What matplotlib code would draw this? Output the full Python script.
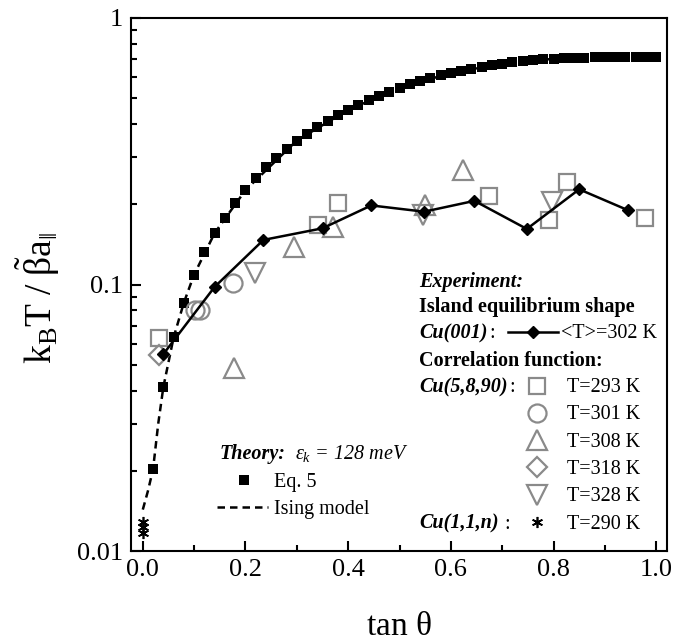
import matplotlib
matplotlib.use("Agg")
from matplotlib import pyplot as plt
from matplotlib.ticker import FixedLocator, NullFormatter

plt.rcParams['font.family'] = ['Liberation Serif', 'DejaVu Serif']
plt.rcParams['mathtext.fontset'] = 'custom'
plt.rcParams['mathtext.rm'] = 'Liberation Serif'
plt.rcParams['mathtext.it'] = 'Liberation Serif:italic'
plt.rcParams['mathtext.bf'] = 'Liberation Serif:bold'

# theory: Eq. 5 points and Ising model curve
eq5_x = [0.02, 0.04, 0.06, 0.08, 0.10, 0.12, 0.14, 0.16, 0.18, 0.20,
         0.22, 0.24, 0.26, 0.28, 0.30, 0.32, 0.34, 0.36, 0.38, 0.40,
         0.42, 0.44, 0.46, 0.48, 0.50, 0.52, 0.54, 0.56, 0.58, 0.60,
         0.62, 0.64, 0.66, 0.68, 0.70, 0.72, 0.74, 0.76, 0.78, 0.80,
         0.82, 0.84, 0.86, 0.88, 0.90, 0.92, 0.94, 0.96, 0.98, 1.00]
eq5_y = [0.0203, 0.0412, 0.0633, 0.0855, 0.109, 0.132, 0.156, 0.178, 0.203, 0.226,
         0.250, 0.275, 0.299, 0.322, 0.347, 0.366, 0.390, 0.411, 0.431, 0.452,
         0.470, 0.491, 0.510, 0.529, 0.546, 0.564, 0.580, 0.597, 0.611, 0.622,
         0.634, 0.645, 0.657, 0.667, 0.674, 0.682, 0.688, 0.694, 0.700, 0.703,
         0.705, 0.708, 0.710, 0.711, 0.713, 0.714, 0.714, 0.715, 0.716, 0.716]

ising_x = [0.0, 0.01, 0.02, 0.03, 0.04, 0.06, 0.08, 0.10, 0.14, 0.20,
           0.30, 0.40, 0.50, 0.60, 0.70, 0.80, 0.90, 1.00]
ising_y = [0.0143, 0.0168, 0.0203, 0.030, 0.0412, 0.0633, 0.0855, 0.109, 0.156, 0.226,
           0.347, 0.452, 0.546, 0.622, 0.674, 0.703, 0.713, 0.716]

# experiment: Cu(001) island shape
cu001_x = [0.04, 0.14, 0.235, 0.35, 0.445, 0.548, 0.646, 0.748, 0.85, 0.945]
cu001_y = [0.0548, 0.098, 0.147, 0.1625, 0.198, 0.1876, 0.206, 0.1616, 0.2276, 0.190]

# correlation function Cu(5,8,90)
t293_x = [0.0325, 0.342, 0.381, 0.675, 0.792, 0.826, 0.979]
t293_y = [0.0628, 0.167, 0.2017, 0.215, 0.1746, 0.243, 0.177]
t301_x = [0.101, 0.112, 0.176]
t301_y = [0.0802, 0.0802, 0.101]
t308_x = [0.178, 0.295, 0.371, 0.550, 0.624]
t308_y = [0.0485, 0.138, 0.165, 0.199, 0.270]
t318_x = [0.0325]
t318_y = [0.0544]
t328_x = [0.219, 0.545, 0.797]
t328_y = [0.110, 0.183, 0.2046]

# Cu(1,1,n)
t290_x = [0.0, 0.0, 0.0]
t290_y = [0.0129, 0.0123, 0.0117]

gray = '#8a8a8a'
fs = 14.5

fig = plt.figure(figsize=(6.87, 6.41), dpi=100)
ax = fig.add_axes([131 / 687, 90 / 641, 536 / 687, 533 / 641])

ax.plot(ising_x, ising_y, color='black', lw=1.8, linestyle=(0, (3, 2)))
ax.plot(eq5_x, eq5_y, 's', color='black', ms=7, mew=0)

open_kw = dict(linestyle='none', mfc='none', mec=gray, mew=1.6)
ax.plot(t293_x, t293_y, 's', ms=12, **open_kw)
ax.plot(t301_x, t301_y, 'o', ms=13, **open_kw)
ax.plot(t308_x, t308_y, '^', ms=14, **open_kw)
ax.plot(t318_x, t318_y, 'D', ms=10, **open_kw)
ax.plot(t328_x, t328_y, 'v', ms=14, **open_kw)
ax.plot(t290_x, t290_y, marker=(6, 2, 0), linestyle='none', color='black', ms=8, mew=1.2)

ax.plot(cu001_x, cu001_y, '-D', color='black', lw=1.8, ms=6.5)

ax.set_yscale('log')
ax.set_xlim(-0.023, 1.021)
ax.set_ylim(0.01, 1)

ax.set_yticks([0.01, 0.1, 1])
ax.set_yticklabels(['0.01', '0.1', '1'])
ax.yaxis.set_minor_locator(FixedLocator([m * 10 ** e for e in (-2, -1) for m in range(2, 10)]))
ax.yaxis.set_minor_formatter(NullFormatter())
ax.set_xticks([0.0, 0.2, 0.4, 0.6, 0.8, 1.0])
ax.set_xticklabels(['0.0', '0.2', '0.4', '0.6', '0.8', '1.0'])
ax.xaxis.set_minor_locator(FixedLocator([0.1, 0.3, 0.5, 0.7, 0.9]))

ax.tick_params(which='both', direction='in', labelsize=19, width=1.5, top=False, right=False)
ax.tick_params(which='major', length=7, pad=6)
ax.tick_params(which='minor', length=4.5)
for sp in ax.spines.values():
    sp.set_linewidth(1.5)

ax.set_xlabel(r'tan $\mathrm{\theta}$', fontsize=24, labelpad=22)
ax.set_ylabel(r'$\mathrm{k_B T\ /\ \tilde{\beta}a_{\|}}$', fontsize=27)
ax.yaxis.set_label_coords(-0.128, 0.475)


def put(x, y, s, **kw):
    kw.setdefault('fontsize', fs)
    return ax.text(x, y - 0.012, s, transform=ax.transAxes, va='baseline', ha='left', **kw)


def key(x, y, **kw):
    ax.plot([x], [y], transform=ax.transAxes, clip_on=False, **kw)


# experiment legend
put(0.537, 0.508, 'Experiment:', fontweight='bold', fontstyle='italic')
put(0.537, 0.460, 'Island equilibrium shape', fontweight='bold')
lab001 = put(0.537, 0.411, 'Cu(001)', fontweight='bold', fontstyle='italic')
ax.plot([0.703, 0.797], [0.411, 0.411], '-', color='black', lw=1.8, transform=ax.transAxes)
key(0.750, 0.411, marker='D', color='black', ms=6.5)
put(0.803, 0.411, '<T>=302 K')
put(0.537, 0.360, 'Correlation function:', fontweight='bold')
lab590 = put(0.537, 0.310, 'Cu(5,8,90)', fontweight='bold', fontstyle='italic')
lab11n = put(0.537, 0.054, 'Cu(1,1,n)', fontweight='bold', fontstyle='italic')

rows = [0.310, 0.259, 0.208, 0.157, 0.105, 0.054]
temps = ['T=293 K', 'T=301 K', 'T=308 K', 'T=318 K', 'T=328 K', 'T=290 K']
keys = [('s', 12), ('o', 13), ('^', 14), ('D', 10), ('v', 14)]
for (m, size), ry in zip(keys, rows):
    key(0.757, ry, marker=m, ms=size, **open_kw)
key(0.757, rows[5], marker=(6, 2, 0), linestyle='none', color='black', ms=8, mew=1.2)
for t, ry in zip(temps, rows):
    put(0.814, ry, t)

# theory legend
put(0.165, 0.185, 'Theory:', fontweight='bold', fontstyle='italic')
put(0.306, 0.185, r'$\mathit{\varepsilon_{k}}$ = 128 meV', fontstyle='italic')
key(0.210, 0.133, marker='s', color='black', ms=7, mew=0)
put(0.267, 0.133, 'Eq. 5')
ax.plot([0.161, 0.256], [0.082, 0.082], color='black', lw=1.8, linestyle=(0, (3, 2)),
        transform=ax.transAxes)
put(0.267, 0.082, 'Ising model')

# colons after the bold italic surface names
fig.canvas.draw()
renderer = fig.canvas.get_renderer()
inv = ax.transAxes.inverted()
for lab, y, sep in [(lab001, 0.411, ':'), (lab590, 0.310, ':'), (lab11n, 0.054, ' :')]:
    bb = lab.get_window_extent(renderer)
    x1 = inv.transform((bb.x1, bb.y0))[0]
    put(x1 + 0.003, y, sep)

fig.savefig('out.png', dpi=100)
